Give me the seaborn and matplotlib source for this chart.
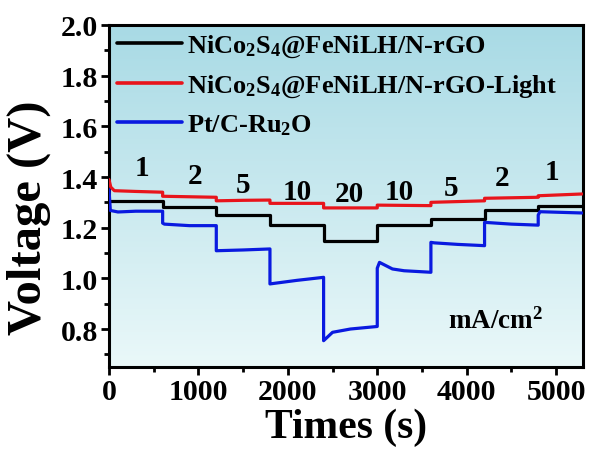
import numpy as np
import pandas as pd
import matplotlib
matplotlib.use("Agg")
import matplotlib.pyplot as plt
from matplotlib.ticker import MultipleLocator
import seaborn as sns

# ---- data ----
black_t = [0, 600, 600, 1200, 1200, 1800, 1800, 2400, 2400, 3000, 3000, 3600, 3600, 4200, 4200, 4800, 4800, 5290]
black_v = [1.306, 1.306, 1.283, 1.283, 1.250, 1.250, 1.210, 1.210, 1.146, 1.146, 1.210, 1.210, 1.234, 1.234, 1.271, 1.271, 1.287, 1.287]

red_t = [0, 20, 60, 300, 600, 600, 900, 1200, 1200, 1500, 1800, 1800, 2400, 2400, 3000, 3000, 3600, 3600, 4200, 4200, 4800, 4800, 5290]
red_v = [1.390, 1.360, 1.346, 1.343, 1.340, 1.324, 1.322, 1.320, 1.306, 1.308, 1.309, 1.296, 1.296, 1.278, 1.278, 1.289, 1.287, 1.300, 1.306, 1.316, 1.320, 1.326, 1.333]

blue_t = [0, 15, 100, 300, 600, 600, 620, 900, 1200, 1200, 1500, 1800, 1800, 2100, 2400, 2400, 2500, 2700, 3000, 3000,
          3025, 3170, 3300, 3600, 3600, 3640, 3900, 4200, 4200, 4500, 4800, 4800, 4820, 5290]
blue_v = [1.350, 1.268, 1.262, 1.265, 1.265, 1.218, 1.214, 1.208, 1.208, 1.109, 1.112, 1.116, 0.978, 0.992, 1.004, 0.754, 0.787, 0.800, 0.810, 1.040,
          1.063, 1.037, 1.030, 1.024, 1.142, 1.140, 1.134, 1.129, 1.221, 1.214, 1.210, 1.250, 1.263, 1.258]

step_labels = ["1", "2", "5", "10", "20", "10", "5", "2", "1"]
step_label_t = [365, 960, 1496, 2109, 2690, 3248, 3828, 4397, 4955]
step_label_v = [1.439, 1.405, 1.372, 1.341, 1.333, 1.341, 1.360, 1.400, 1.420]

series_names = [r"NiCo$_2$S$_4$@FeNiLH/N-rGO",
                r"NiCo$_2$S$_4$@FeNiLH/N-rGO-Light",
                r"Pt/C-Ru$_2$O"]
series_colors = ["#000000", "#e8141b", "#0a1ae0"]

# ---- style ----
sns.set_theme(style="ticks")
plt.rcParams["font.family"] = ["Liberation Serif", "DejaVu Serif"]
plt.rcParams["font.weight"] = "bold"
plt.rcParams["mathtext.fontset"] = "custom"
plt.rcParams["mathtext.rm"] = "Liberation Serif:bold"
plt.rcParams["mathtext.it"] = "Liberation Serif:bold"
plt.rcParams["mathtext.bf"] = "Liberation Serif:bold"
plt.rcParams["mathtext.default"] = "rm"
for key in ["text.color", "axes.labelcolor", "xtick.color", "ytick.color",
            "xtick.labelcolor", "ytick.labelcolor", "axes.edgecolor"]:
    plt.rcParams[key] = "black"

fig = plt.figure(figsize=(5.93, 4.52), dpi=100)
ax = fig.add_axes([0.1838, 0.1858, 0.7992, 0.7567])

# gradient background
grad = np.linspace(0, 1, 256).reshape(-1, 1)
top = np.array([168, 218, 229]) / 255
bot = np.array([234, 248, 249]) / 255
img = top[None, None, :] * (1 - grad[:, :, None]) + bot[None, None, :] * grad[:, :, None]
ax.imshow(img, extent=[0, 1, 0, 1], transform=ax.transAxes, aspect="auto", zorder=0)

for t, v, name, c in zip([black_t, red_t, blue_t], [black_v, red_v, blue_v], series_names, series_colors):
    df = pd.DataFrame({"t": t, "v": v})
    sns.lineplot(data=df, x="t", y="v", estimator=None, sort=False, color=c, lw=2.3, label=name, ax=ax, zorder=3)

for s, t, v in zip(step_labels, step_label_t, step_label_v):
    ax.text(t, v, s, ha="center", va="center", fontsize=21, fontweight="bold", color="black", zorder=4)

ax.text(0.917, 0.135, r"mA/cm$^2$", transform=ax.transAxes, ha="right", va="center",
        fontsize=19.5, fontweight="bold", color="black")

ax.set_xlim(0, 5300)
ax.set_ylim(0.65, 2.0)
ax.xaxis.set_major_locator(MultipleLocator(1000))
ax.xaxis.set_minor_locator(MultipleLocator(500))
ax.yaxis.set_major_locator(MultipleLocator(0.2))
ax.yaxis.set_minor_locator(MultipleLocator(0.1))
ax.tick_params(which="major", direction="out", length=6, width=2, labelsize=21.5, pad=2,
               color="black", labelcolor="black")
ax.tick_params(which="minor", direction="out", length=3.5, width=2, color="black")
ax.yaxis.set_major_formatter(matplotlib.ticker.FormatStrFormatter("%.1f"))
for lab in ax.get_xticklabels() + ax.get_yticklabels():
    lab.set_fontweight("bold")
for sp in ax.spines.values():
    sp.set_linewidth(2.2)
    sp.set_color("black")

ax.set_xlabel("Times (s)", fontsize=30, fontweight="bold", labelpad=2, color="black")
ax.set_ylabel("Voltage (V)", fontsize=35, fontweight="bold", color="black")
ax.yaxis.set_label_coords(-0.122, 0.44)

leg = ax.legend(loc="upper left", frameon=False, fontsize=19, handlelength=2.45,
                handletextpad=0.2, labelspacing=0.5, borderaxespad=0.15, borderpad=0.15)
for line in leg.get_lines():
    line.set_linewidth(2.6)
for txt in leg.get_texts():
    txt.set_color("black")

fig.savefig("out.png", dpi=100)
